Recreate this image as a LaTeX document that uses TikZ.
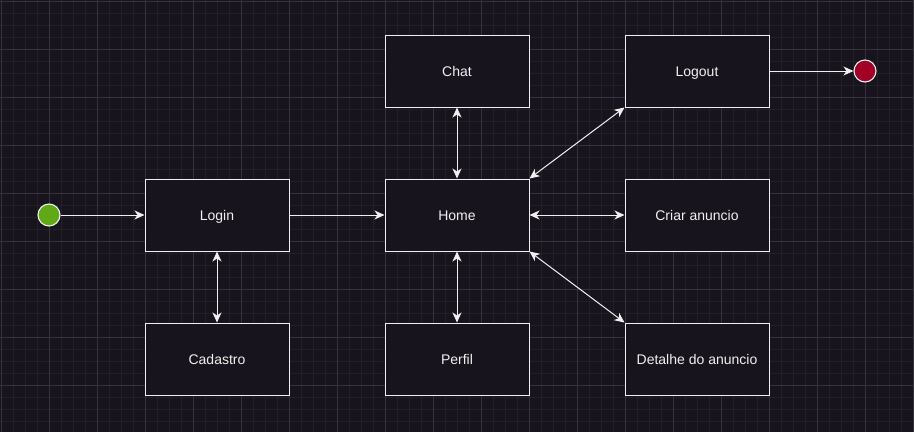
\documentclass[tikz,border=0pt]{standalone}
\usepackage{fontspec}
\setmainfont{Liberation Sans}
\usetikzlibrary{arrows.meta}
\definecolor{bg}{HTML}{18141D}
\definecolor{gridminor}{HTML}{231F28}
\definecolor{gridmajor}{HTML}{36323B}
\definecolor{fg}{HTML}{F0F0F0}
\definecolor{startgreen}{HTML}{60A917}
\definecolor{endred}{HTML}{A20025}
\begin{document}
\begin{tikzpicture}[x=1pt,y=-1pt,
  statebox/.style={draw=fg,fill=bg,line width=1pt,minimum width=144pt,minimum height=72pt,inner sep=0pt,text=fg,font=\fontsize{14}{16}\selectfont,text height=10pt,text depth=0pt},
  startdot/.style={circle,draw=fg,fill=startgreen,line width=1.1pt,minimum size=22pt,inner sep=0pt},
  enddot/.style={circle,draw=fg,fill=endred,line width=1.1pt,minimum size=22pt,inner sep=0pt},
  conn/.style={draw=fg,line width=1pt,-{Stealth[length=10pt,width=9pt,inset=3pt]}},
  biconn/.style={draw=fg,line width=1pt,{Stealth[length=10pt,width=9pt,inset=3pt]}-{Stealth[length=10pt,width=9pt,inset=3pt]}}]
\useasboundingbox (0,0) rectangle (914,432);
\fill[bg] (0,0) rectangle (914,432);
\foreach \i in {0,...,76} {\draw[gridminor,line width=0.8pt] ({1+12*\i},0) -- ({1+12*\i},432);}
\foreach \i in {0,...,36} {\draw[gridminor,line width=0.8pt] (0,{1+12*\i}) -- (914,{1+12*\i});}
\foreach \i in {0,...,19} {\draw[gridmajor,line width=0.8pt] ({1+48*\i},0) -- ({1+48*\i},432);}
\foreach \i in {0,...,9} {\draw[gridmajor,line width=0.8pt] (0,{1+48*\i}) -- (914,{1+48*\i});}

\node[startdot] (start) at (49,215) {};
\node[enddot] (end) at (865,71) {};
\node[statebox] (login) at (217,215) {Login};
\node[statebox] (home) at (457,215) {Home};
\node[statebox] (chat) at (457,71) {Chat};
\node[statebox] (logout) at (697,71) {Logout};
\node[statebox] (criar) at (697,215) {Criar anuncio};
\node[statebox] (detalhe) at (697,359) {Detalhe do anuncio};
\node[statebox] (cadastro) at (217,359) {Cadastro};
\node[statebox] (perfil) at (457,359) {Perfil};

\draw[conn] (start) -- (login);
\draw[conn] (login) -- (home);
\draw[biconn] (login) -- (cadastro);
\draw[biconn] (home) -- (chat);
\draw[biconn] (home) -- (perfil);
\draw[biconn] (home) -- (criar);
\draw[biconn] (home.north east) -- (logout.south west);
\draw[biconn] (home.south east) -- (detalhe.north west);
\draw[conn] (logout) -- (end);
\end{tikzpicture}
\end{document}
